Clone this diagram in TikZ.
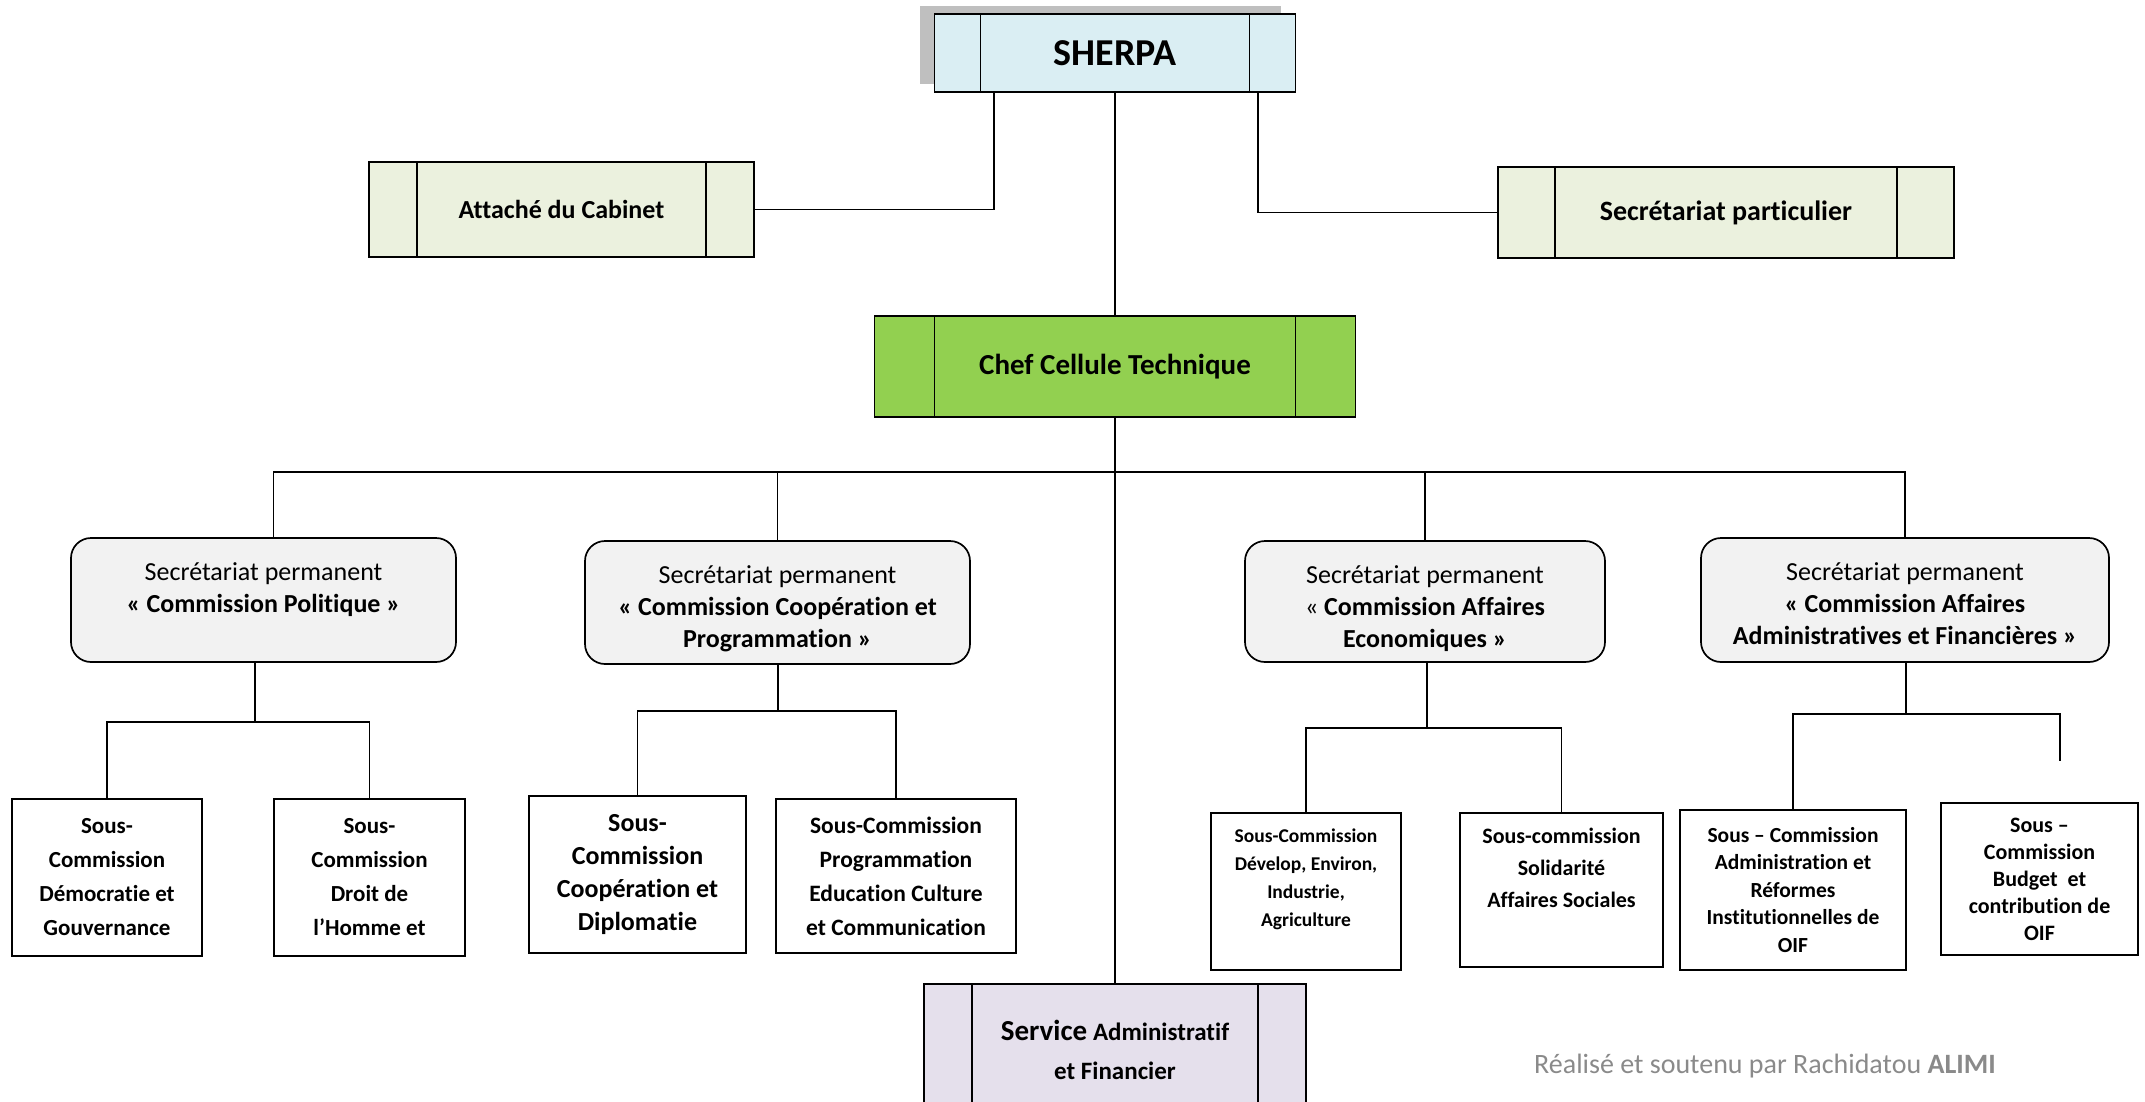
\documentclass[tikz,border=0pt]{standalone}
\usepackage{fontspec}
\setmainfont{Carlito}[Ligatures={TeX,NoCommon}]
\usepackage{xcolor}
\definecolor{sky}{HTML}{DAEEF3}
\definecolor{sage}{HTML}{EBF1DE}
\definecolor{leaf}{HTML}{92D050}
\definecolor{mist}{HTML}{F2F2F2}
\definecolor{lilac}{HTML}{E5E0EC}
\definecolor{shade}{HTML}{BFBFBF}
\definecolor{pencil}{HTML}{8A8A8A}
\usepackage{tikz}
\usetikzlibrary{positioning,shadows}
\newcommand{\fsz}[2]{\fontsize{#1}{#2}\selectfont}
\newcommand{\toptext}[4]{\parbox[c][#1][t]{#2}{\centering\rule{0pt}{#3}#4}}
\tikzset{
  box/.style={draw=black, line width=1.7pt, inner sep=0pt, outer sep=0pt, align=center},
  bars/.style={path picture={\draw[line width=1.7pt]
    ([xshift=#1]path picture bounding box.north west) -- ([xshift=#1]path picture bounding box.south west)
    ([xshift=-#1]path picture bounding box.north east) -- ([xshift=-#1]path picture bounding box.south east);}},
  head/.style={box, font=\bfseries\fsz{28}{34}},
  perm/.style={box, fill=mist, rounded corners=20pt, font=\fsz{26}{32}},
  sub/.style={box, fill=white},
  wire/.style={black, line width=1.7pt},
}

\begin{document}
\begin{tikzpicture}[x=1pt, y=-1pt]
  \path[use as bounding box, clip] (0,0) rectangle (2145,1101);
  \node[head, fill=sky, bars=46pt, minimum width=361pt, minimum height=78pt, font=\bfseries\fsz{38}{46},
        drop shadow={shadow xshift=-15pt, shadow yshift=8pt, fill=shade, opacity=1}] (sh) at (1115,53) {SHERPA};
  \node[head, fill=sage, bars=48pt, minimum width=385pt, minimum height=95pt, font=\bfseries\fsz{26}{32}] (ac) at (561.5,209.5) {Attaché du Cabinet};
  \node[head, fill=sage, bars=57pt, minimum width=456pt, minimum height=91pt] (sp) at (1726,212.5) {Secrétariat particulier};
  \node[head, fill=leaf, bars=60pt, minimum width=481pt, minimum height=101pt, font=\bfseries\fsz{29}{34}] (cc) at (1115,366.5) {Chef Cellule Technique};

  \node[perm, minimum width=385pt, minimum height=124pt] (cpo) at (263.5,600)
    {\toptext{124pt}{385pt}{42pt}{Secrétariat permanent\\\textbf{« Commission Politique »}}};
  \node[perm, minimum width=385pt, minimum height=123pt] (cco) at (777.5,602.5)
    {\toptext{123pt}{385pt}{42pt}{Secrétariat permanent\\\textbf{« Commission Coopération et}\\\textbf{Programmation »}}};
  \node[perm, minimum width=360pt, minimum height=121pt] (cae) at (1425,601.5)
    {\toptext{121pt}{360pt}{42pt}{Secrétariat permanent\\« \textbf{Commission Affaires}\\\textbf{Economiques »}}};
  \node[perm, minimum width=408pt, minimum height=124pt] (caf) at (1905,600)
    {\toptext{124pt}{408pt}{42pt}{Secrétariat permanent\\\textbf{« Commission Affaires}\\\textbf{Administratives et Financières »}}};

  \node[sub, minimum width=190pt, minimum height=157pt, font=\bfseries\fsz{23}{34}] (dg) at (107,877.5) {Sous-\\Commission\\Démocratie et\\Gouvernance};
  \node[sub, minimum width=191pt, minimum height=157pt, font=\bfseries\fsz{23}{34}] (dh) at (369.5,877.5) {Sous-\\Commission\\Droit de\\l’Homme et};
  \node[sub, minimum width=217pt, minimum height=157pt, font=\bfseries\fsz{26}{33}] (cd) at (637.5,874.5) {Sous-\\Commission\\Coopération et\\Diplomatie};
  \node[sub, minimum width=240pt, minimum height=154pt, font=\bfseries\fsz{23.5}{34}] (pe) at (896,876) {Sous-Commission\\Programmation\\Education Culture\\et Communication};
  \node[sub, minimum width=190pt, minimum height=157pt, font=\bfseries\fsz{19.5}{28}] (de) at (1306,891.5)
    {\toptext{157pt}{190pt}{29pt}{Sous-Commission\\Dévelop, Environ,\\Industrie,\\Agriculture}};
  \node[sub, minimum width=203pt, minimum height=154pt, font=\bfseries\fsz{22}{32}] (as) at (1561.5,890)
    {\toptext{154pt}{203pt}{30pt}{Sous-commission\\Solidarité\\Affaires Sociales}};
  \node[sub, minimum width=226pt, minimum height=160pt, font=\bfseries\fsz{21.5}{27.5}] (ar) at (1793,890) {Sous -- Commission\\Administration et\\Réformes\\Institutionnelles de\\OIF};
  \node[sub, minimum width=197pt, minimum height=152pt, font=\bfseries\fsz{22}{27}] (bc) at (2039.5,879) {Sous --\\Commission\\Budget\ \ et\\contribution de\\OIF};

  \node[box, fill=lilac, bars=48pt, minimum width=382pt, minimum height=132pt, font=\bfseries\fsz{25}{39}] (saf) at (1115,1050)
    {{\fsz{29}{39}Service} Administratif\\et Financier};
  \node[text=pencil, font=\fsz{28}{34}] (rf) at (1765,1066) {Réalisé et soutenu par Rachidatou \textbf{ALIMI}};

  \coordinate (bus) at (1115,472);
  \coordinate (j1) at (255,722);
  \coordinate (j2) at (778,711);
  \coordinate (j3) at (1427,728);
  \coordinate (j4) at (1906,714);
  \coordinate (bcend) at ([xshift=20.5pt, yshift=42pt]bc.north);
  \draw[wire] ([xshift=-121pt]sh.south) |- (ac.east);
  \draw[wire] ([xshift=143pt]sh.south) |- (sp.west);
  \draw[wire] (sh.south) -- (cc.north);
  \draw[wire] (cc.south) -- (saf.north);
  \draw[wire] ([xshift=10pt]cpo.north) |- (bus) -| (caf.north);
  \draw[wire] (cco.north) -- (cco.north |- bus); \draw[wire] (cae.north) -- (cae.north |- bus);
  \draw[wire] (cpo.south -| j1) -- (j1); \draw[wire] (dg.north) |- (j1) -| (dh.north);
  \draw[wire] (cco.south -| j2) -- (j2); \draw[wire] (cd.north) |- (j2) -| (pe.north);
  \draw[wire] (cae.south -| j3) -- (j3); \draw[wire] (de.north) |- (j3) -| (as.north);
  \draw[wire] (caf.south -| j4) -- (j4); \draw[wire] (ar.north) |- (j4) -| (bcend);
\end{tikzpicture}
\end{document}
